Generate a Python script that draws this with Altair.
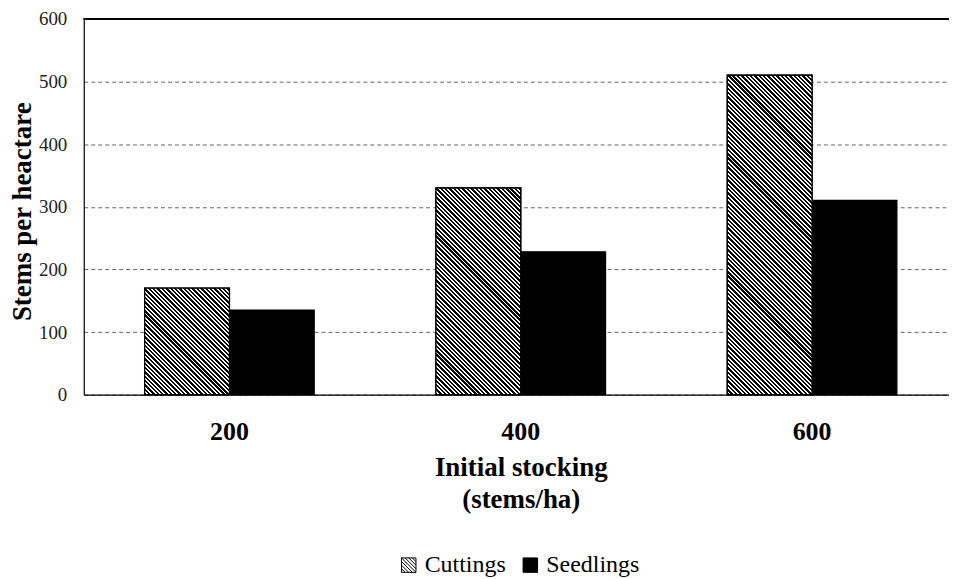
import math
import altair as alt
import pandas as pd

# ---- data ----
CATEGORIES = ["200", "400", "600"]
SERIES = ["Cuttings", "Seedlings"]
CUTTINGS = [170, 330, 510]
SEEDLINGS = [135, 228, 310]
Y_TICKS = [0, 100, 200, 300, 400, 500, 600]

rows = []
for c, v in zip(CATEGORIES, CUTTINGS):
    rows.append({"stocking": c, "type": "Cuttings", "stems": v})
for c, v in zip(CATEGORIES, SEEDLINGS):
    rows.append({"stocking": c, "type": "Seedlings", "stems": v})
df = pd.DataFrame(rows)

# ---- layout ----
PLOT_W = 868
PLOT_H = 377
TOP_PAD = 10
X_RANGE = 876.75          # band range (right part cropped as in the scan)
P_INNER = 0.418
P_OUTER = 0.209
FONT = "Liberation Serif"

step = X_RANGE / (len(CATEGORIES) - P_INNER + 2 * P_OUTER)
bar_w = step * (1 - P_INNER) / 2


def hatch(w, h, period=3.1, frac=0.55):
    """Diagonal (\\\\) stripes at 45 degrees as a linear gradient in bbox units."""
    L = (w + h) / math.sqrt(2)
    stops = []
    k = 0
    while k * period < L:
        t0 = k * period / L
        t1 = min((k + frac) * period / L, 1.0)
        t2 = min((k + 1) * period / L, 1.0)
        stops += [
            alt.GradientStop(offset=t0, color="black"),
            alt.GradientStop(offset=t1, color="black"),
            alt.GradientStop(offset=t1, color="white"),
            alt.GradientStop(offset=t2, color="white"),
        ]
        k += 1
    s = (1 / h + 1 / w) / (1 / h ** 2 + 1 / w ** 2)
    return alt.LinearGradient(
        gradient="linear", stops=stops, x1=0, y1=1, x2=s / h, y2=1 - s / w
    )


x_enc = alt.X(
    "stocking:N",
    sort=CATEGORIES,
    scale=alt.Scale(range=[0, X_RANGE], paddingInner=P_INNER, paddingOuter=P_OUTER),
    axis=alt.Axis(
        title=["Initial stocking", "(stems/ha)"],
        titleFont=FONT,
        titleFontSize=27,
        titleFontWeight="bold",
        titleColor="black",
        titleLineHeight=32,
        titleBaseline="middle",
        titleY=73,
        labelFont=FONT,
        labelFontSize=26,
        labelFontWeight="bold",
        labelColor="black",
        labelAngle=0,
        labelPadding=24,
        ticks=False,
        domainColor="black",
        domainWidth=1.2,
        grid=False,
    ),
)
xoff_enc = alt.XOffset(
    "type:N", sort=SERIES, scale=alt.Scale(domain=SERIES, paddingInner=0, paddingOuter=0)
)
y_enc = alt.Y(
    "stems:Q",
    scale=alt.Scale(domain=[0, 600], nice=False),
    axis=alt.Axis(
        values=Y_TICKS,
        title="Stems per heactare",
        titleFont=FONT,
        titleFontSize=27,
        titleFontWeight="bold",
        titleColor="black",
        titleX=-61,
        titleY=193,
        titleBaseline="middle",
        titleAlign="center",
        labelFont=FONT,
        labelFontSize=19,
        labelColor="#222",
        labelPadding=17,
        ticks=False,
        domainColor="black",
        domainWidth=1.2,
        grid=True,
        gridColor="#666",
        gridDash=[4, 3],
        gridWidth=1,
    ),
)

LEGEND_PATH = "M-1,-1H1V1H-1Z"
for c in [-1.5, -1.0, -0.5, 0.0, 0.5, 1.0, 1.5]:
    if c >= 0:
        LEGEND_PATH += f" M-1,{-1 + c}L{1 - c},1"
    else:
        LEGEND_PATH += f" M{-1 - c},-1L1,{1 + c}"

base = alt.Chart(df).mark_bar(stroke="black", strokeWidth=1.3).encode(
    x=x_enc,
    xOffset=xoff_enc,
    y=y_enc,
    fill=alt.Fill(
        "type:N",
        scale=alt.Scale(domain=SERIES, range=["white", "black"]),
        legend=alt.Legend(
            title=None,
            orient="none",
            direction="horizontal",
            legendX=314,
            legendY=536,
            symbolType=LEGEND_PATH,
            symbolSize=210,
            symbolStrokeColor="black",
            symbolStrokeWidth=1,
            labelFont=FONT,
            labelFontSize=24,
            labelColor="black",
            labelOffset=4,
            columnPadding=12,
        ),
    ),
)

layers = [base]
for c, v in zip(CATEGORIES, CUTTINGS):
    h = v / 600 * PLOT_H
    layers.append(
        alt.Chart(df)
        .transform_filter((alt.datum.type == "Cuttings") & (alt.datum.stocking == c))
        .mark_bar(fill=hatch(bar_w, h), stroke="black", strokeWidth=1.3)
        .encode(x=x_enc, xOffset=xoff_enc, y=y_enc)
    )

top_rule = alt.Chart(df).mark_rule(color="black", strokeWidth=1.2).encode(
    y=alt.datum(600)
)
layers.append(top_rule)

chart = (
    alt.layer(*layers)
    .properties(
        width=PLOT_W,
        height=PLOT_H,
        autosize=alt.AutoSizeParams(type="none"),
        padding={"left": 76, "top": TOP_PAD, "right": 0, "bottom": 184},
        background="white",
    )
    .configure_view(stroke=None)
)

chart.save("out.html", embed_options={"renderer": "svg", "actions": False})
